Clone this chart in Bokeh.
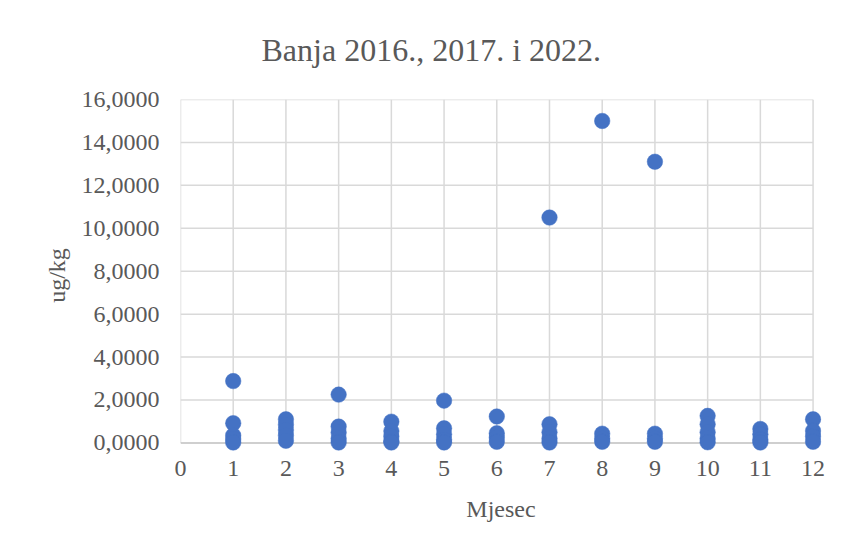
from bokeh.plotting import figure
from bokeh.models import Range1d, FixedTicker, CustomJSTickFormatter, Title
from bokeh.embed import file_html
from bokeh.resources import INLINE

# ---- data ----
mjesec = [1, 1, 1, 1, 1,
          2, 2, 2, 2, 2,
          3, 3, 3, 3, 3,
          4, 4, 4, 4, 4,
          5, 5, 5, 5, 5,
          6, 6, 6, 6,
          7, 7, 7, 7, 7,
          8, 8, 8, 8,
          9, 9, 9, 9,
          10, 10, 10, 10, 10,
          11, 11, 11, 11,
          12, 12, 12, 12]
vrijednost = [2.88, 0.92, 0.35, 0.18, 0.02,
              1.10, 0.85, 0.60, 0.35, 0.10,
              2.25, 0.76, 0.48, 0.20, 0.02,
              0.99, 0.55, 0.30, 0.08, 0.02,
              1.97, 0.68, 0.40, 0.15, 0.02,
              1.23, 0.45, 0.25, 0.05,
              10.50, 0.87, 0.50, 0.20, 0.02,
              15.00, 0.43, 0.20, 0.05,
              13.10, 0.43, 0.20, 0.05,
              1.26, 0.87, 0.50, 0.20, 0.03,
              0.65, 0.40, 0.15, 0.02,
              1.10, 0.56, 0.30, 0.05]
x_ticks = [0, 1, 2, 3, 4, 5, 6, 7, 8, 9, 10, 11, 12]
y_ticks = [0, 2, 4, 6, 8, 10, 12, 14, 16]

naslov = "Banja 2016., 2017. i 2022."
x_naziv = "Mjesec"
y_naziv = "ug/kg"

FONT = "Liberation Serif"
TXT = "#595959"
GRID = "#d9d9d9"
AXIS = "#bfbfbf"
BLUE = "#4472C4"

x_pad = 0.16
y_pad = 0.40

p = figure(
    frame_width=641, frame_height=352,
    min_border_left=180, min_border_top=99,
    min_border_right=12, min_border_bottom=93,
    x_range=Range1d(x_ticks[0], x_ticks[-1] + x_pad),
    y_range=Range1d(y_ticks[0] - y_pad, y_ticks[-1]),
    output_backend="svg", toolbar_location=None,
    background_fill_color="white", border_fill_color="white",
)
p.outline_line_color = None
p.xgrid.visible = False
p.ygrid.visible = False

# gridlines (from tick arrays) and x-axis line
p.segment(x0=x_ticks, y0=[y_ticks[0]] * len(x_ticks), x1=x_ticks, y1=[y_ticks[-1]] * len(x_ticks),
          line_color=GRID, line_width=1.5)
p.segment(x0=[x_ticks[0]] * (len(y_ticks) - 1), y0=y_ticks[1:], x1=[x_ticks[-1]] * (len(y_ticks) - 1), y1=y_ticks[1:],
          line_color=GRID, line_width=1.5)
p.segment(x0=[x_ticks[0]], y0=[y_ticks[0]], x1=[x_ticks[-1]], y1=[y_ticks[0]],
          line_color=AXIS, line_width=1.5)

p.scatter(mjesec, vrijednost, size=15.5, fill_color=BLUE, line_color=BLUE, line_width=0.5)

# axes
xa = p.xaxis[0]
xa.ticker = FixedTicker(ticks=x_ticks)
xa.axis_line_color = None
xa.major_tick_line_color = None
xa.minor_tick_line_color = None
xa.major_tick_out = 0
xa.major_label_standoff = 9
xa.major_label_text_font = FONT
xa.major_label_text_font_size = "24px"
xa.major_label_text_color = TXT
xa.axis_label = x_naziv
xa.axis_label_text_font = FONT
xa.axis_label_text_font_size = "24px"
xa.axis_label_text_font_style = "normal"
xa.axis_label_text_color = TXT
xa.axis_label_standoff = 17

ya = p.yaxis[0]
ya.ticker = FixedTicker(ticks=y_ticks)
ya.formatter = CustomJSTickFormatter(code="return tick.toFixed(4).replace('.', ',');")
ya.axis_line_color = None
ya.major_tick_line_color = None
ya.minor_tick_line_color = None
ya.major_tick_out = 0
ya.major_label_standoff = 21
ya.major_label_text_font = FONT
ya.major_label_text_font_size = "24px"
ya.major_label_text_color = TXT
ya.axis_label = y_naziv
ya.axis_label_text_font = FONT
ya.axis_label_text_font_size = "24px"
ya.axis_label_text_font_style = "normal"
ya.axis_label_text_color = TXT
ya.axis_label_standoff = 9

p.add_layout(Title(text=naslov, align="left", vertical_align="top", offset=81, standoff=60,
                   text_font=FONT, text_font_size="32px", text_font_style="normal",
                   text_color=TXT), "above")

open("out.html", "w").write(file_html(p, INLINE))
